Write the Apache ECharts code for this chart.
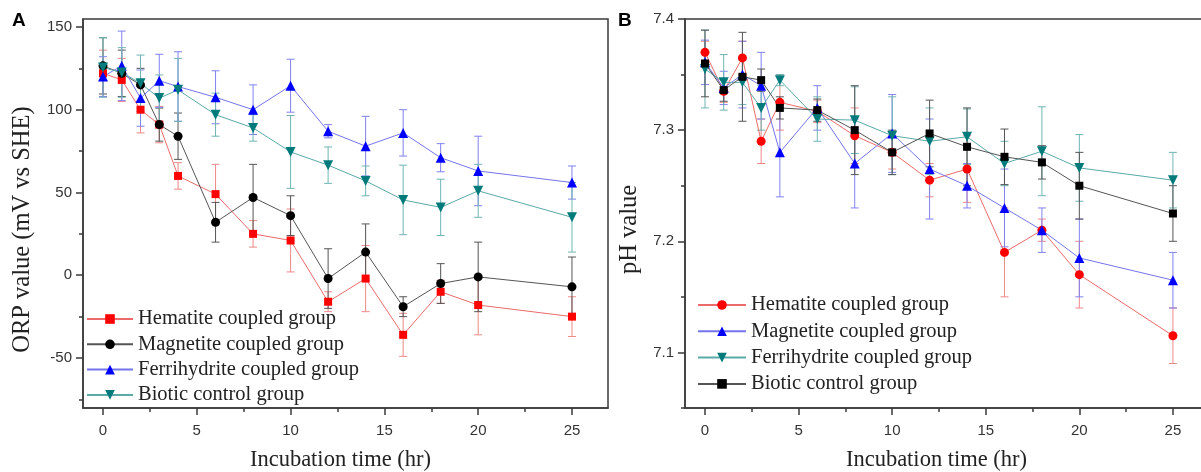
<!DOCTYPE html>
<html>
<head>
<meta charset="utf-8">
<script src="https://cdn.jsdelivr.net/npm/echarts@6/dist/echarts.min.js"></script>
<style>
html,body{margin:0;padding:0;background:#fff;}
#chart{width:1201px;height:472px;}
</style>
</head>
<body>
<div id="chart"></div>
<script>
// ---------- data ----------
const times = [0, 1, 2, 3, 4, 6, 8, 10, 12, 14, 16, 18, 20, 25];

// Panel A: ORP value (mV vs SHE)
const orpHematite     = [122, 118, 100, 91, 60, 49, 25, 21, -16, -2, -36, -10, -18, -25];
const orpHematiteErr  = [14, 13, 14, 11, 8, 18, 8, 19, 6, 20, 13, 7, 18, 12];
const orpMagnetite    = [126.5, 122, 115, 91, 84, 32, 47, 36, -2, 14, -19, -5, -1, -7];
const orpMagnetiteErr = [17, 14, 10, 10, 14, 12, 20, 12, 18, 17, 6, 12, 21, 18];
const orpFerri        = [120, 126.5, 107, 117.5, 114, 107.5, 100, 114.5, 87, 78, 86, 71, 63, 56];
const orpFerriErr     = [12, 21, 17, 16, 21, 16, 15, 16, 4, 18, 14, 8.5, 21, 10];
const orpBiotic       = [125.5, 122.5, 116, 107, 112, 97, 89, 74.5, 66.5, 57, 45.5, 41, 51, 35];
const orpBioticErr    = [18, 15, 17, 14, 19, 13, 8, 22, 11, 9, 21, 17, 16, 21];

// Panel B: pH value
const phHematite     = [7.370, 7.335, 7.365, 7.290, 7.325, 7.317, 7.295, 7.280, 7.255, 7.265, 7.190, 7.210, 7.170, 7.115];
const phHematiteErr  = [0.01, 0.01, 0.015, 0.02, 0.025, 0.01, 0.025, 0.015, 0.015, 0.03, 0.04, 0.01, 0.03, 0.025];
const phMagnetite    = [7.361, 7.338, 7.350, 7.340, 7.280, 7.320, 7.270, 7.297, 7.265, 7.250, 7.230, 7.210, 7.185, 7.165];
const phMagnetiteErr = [0.02, 0.015, 0.03, 0.03, 0.04, 0.02, 0.04, 0.035, 0.045, 0.02, 0.035, 0.02, 0.035, 0.025];
const phFerri        = [7.355, 7.343, 7.343, 7.320, 7.345, 7.310, 7.309, 7.295, 7.290, 7.294, 7.270, 7.281, 7.266, 7.255];
const phFerriErr     = [0.035, 0.025, 0.02, 0.02, 0.005, 0.02, 0.03, 0.035, 0.03, 0.025, 0.02, 0.04, 0.03, 0.025];
const phBiotic       = [7.360, 7.336, 7.348, 7.345, 7.320, 7.318, 7.300, 7.280, 7.297, 7.285, 7.276, 7.271, 7.250, 7.225];
const phBioticErr    = [0.03, 0.01, 0.04, 0.01, 0.01, 0.01, 0.04, 0.02, 0.03, 0.035, 0.025, 0.015, 0.03, 0.025];

const groupNames = ['Hematite coupled group', 'Magnetite coupled group', 'Ferrihydrite coupled group', 'Biotic control group'];

const xMajorTicks = [0, 5, 10, 15, 20, 25];
const xMinorTicks = [2.5, 7.5, 12.5, 17.5, 22.5];
const orpMajorTicks = [-50, 0, 50, 100, 150];
const orpMinorTicks = [-75, -25, 25, 75, 125];
const phMajorTicks = [7.1, 7.2, 7.3, 7.4];
const phMinorTicks = [7.05, 7.15, 7.25, 7.35];

// ---------- styles ----------
const C = {
  red:   {mark: '#ff0000', line: '#ec6a6a', err: '#ee8888'},
  black: {mark: '#000000', line: '#555555', err: '#555555'},
  blue:  {mark: '#0000ff', line: '#7474ee', err: '#8080f0'},
  teal:  {mark: '#007a7a', line: '#5aaaa8', err: '#6fb5b3'}
};
const SERIF = '"Liberation Serif", "Times New Roman", serif';
const SANS = '"Liberation Sans", Arial, sans-serif';
const AXIS_COLOR = '#3a3a3a';

function pairs(vals) { return times.map((t, i) => [t, vals[i]]); }
function errPairs(vals, errs) { return times.map((t, i) => [t, vals[i] - errs[i], vals[i] + errs[i]]); }

function errRender(params, api) {
  const x = api.value(0), lo = api.value(1), hi = api.value(2);
  const a = api.coord([x, hi]), b = api.coord([x, lo]);
  const w = 4;
  const st = {stroke: api.visual('color'), lineWidth: 1, fill: null};
  return {type: 'group', children: [
    {type: 'line', shape: {x1: a[0], y1: a[1], x2: b[0], y2: b[1]}, style: st},
    {type: 'line', shape: {x1: a[0] - w, y1: a[1], x2: a[0] + w, y2: a[1]}, style: st},
    {type: 'line', shape: {x1: b[0] - w, y1: b[1], x2: b[0] + w, y2: b[1]}, style: st}
  ]};
}

function lineSeries(panel, name, vals, col, symbol, size, rotate, axIdx) {
  return {
    type: 'line', name: panel + '|' + name, data: pairs(vals),
    xAxisIndex: axIdx, yAxisIndex: axIdx,
    symbol: symbol, symbolSize: size, symbolRotate: rotate || 0,
    itemStyle: {color: col.mark}, lineStyle: {color: col.line, width: 1},
    z: 3, animation: false, clip: false
  };
}
function errSeries(vals, errs, col, axIdx) {
  return {
    type: 'custom', renderItem: errRender, data: errPairs(vals, errs),
    xAxisIndex: axIdx, yAxisIndex: axIdx, encode: {x: 0, y: [1, 2]},
    itemStyle: {color: col.err}, z: 2, animation: false, silent: true, clip: false
  };
}

function majorX(gridIndex, min, max, namePad) {
  return {
    type: 'value', gridIndex, min, max, position: 'bottom',
    name: 'Incubation time (hr)', nameLocation: 'middle', nameGap: 41,
    nameTextStyle: {fontFamily: SERIF, fontSize: 22.5, color: '#222', padding: namePad},
    axisLine: {show: true, onZero: false, lineStyle: {color: AXIS_COLOR, width: 1.5}},
    axisTick: {show: true, inside: false, length: 7, customValues: xMajorTicks, lineStyle: {color: AXIS_COLOR, width: 1.5}},
    axisLabel: {show: true, customValues: xMajorTicks, margin: 15, fontFamily: SANS, fontSize: 15, color: '#333'},
    splitLine: {show: false}
  };
}
function minorX(gridIndex, min, max) {
  return {
    type: 'value', gridIndex, min, max, position: 'bottom',
    axisLine: {show: false, onZero: false},
    axisTick: {show: true, inside: false, length: 4, customValues: xMinorTicks, lineStyle: {color: AXIS_COLOR, width: 1.5}},
    axisLabel: {show: false}, splitLine: {show: false}
  };
}
function majorY(gridIndex, min, max, ticks, name, nameGap, fmt) {
  return {
    type: 'value', gridIndex, min, max, position: 'left',
    name, nameLocation: 'middle', nameGap,
    nameTextStyle: {fontFamily: SERIF, fontSize: 24.5, color: '#222', padding: [0, 32, 0, 0]},
    axisLine: {show: true, onZero: false, lineStyle: {color: AXIS_COLOR, width: 1.5}},
    axisTick: {show: true, inside: false, length: 7, customValues: ticks, lineStyle: {color: AXIS_COLOR, width: 1.5}},
    axisLabel: {show: true, customValues: ticks, margin: 11, fontFamily: SANS, fontSize: 15, color: '#333', formatter: fmt},
    splitLine: {show: false}
  };
}
function minorY(gridIndex, min, max, ticks) {
  return {
    type: 'value', gridIndex, min, max, position: 'left',
    axisLine: {show: false, onZero: false},
    axisTick: {show: true, inside: false, length: 4, customValues: ticks, lineStyle: {color: AXIS_COLOR, width: 1.5}},
    axisLabel: {show: false}, splitLine: {show: false}
  };
}

function legendFor(panel, left, top, itemWidth, gap) {
  return {
    orient: 'vertical', left, top, itemWidth, itemHeight: 12, itemGap: gap, padding: 0,
    data: groupNames.map(n => panel + '|' + n),
    formatter: name => name.split('|')[1],
    textStyle: {fontFamily: SERIF, fontSize: 20.5, color: '#222', lineHeight: 20},
    selectedMode: false
  };
}

const xMinA = -1.066, xMaxA = 26.92;
const xMinB = -1.068, xMaxB = 26.66;

const option = {
  backgroundColor: '#ffffff',
  animation: false,
  title: [
    {text: 'A', left: 12, top: 11, padding: 0, textStyle: {fontFamily: SANS, fontSize: 19, fontWeight: 'bold', color: '#000'}},
    {text: 'B', left: 618, top: 11, padding: 0, textStyle: {fontFamily: SANS, fontSize: 19, fontWeight: 'bold', color: '#000'}}
  ],
  grid: [
    {left: 83, top: 19, right: 593, bottom: 64, outerBoundsMode: 'none', containLabel: false, show: true, borderColor: AXIS_COLOR, borderWidth: 1.5, backgroundColor: 'transparent'},
    {left: 685, top: 19, right: -3, bottom: 64, outerBoundsMode: 'none', containLabel: false, show: true, borderColor: AXIS_COLOR, borderWidth: 1.5, backgroundColor: 'transparent'}
  ],
  xAxis: [
    majorX(0, xMinA, xMaxA, [0, 10, 0, 0]), minorX(0, xMinA, xMaxA),
    majorX(1, xMinB, xMaxB, [0, 16, 0, 0]), minorX(1, xMinB, xMaxB)
  ],
  yAxis: [
    majorY(0, -80.2, 154.8, orpMajorTicks, 'ORP value (mV vs SHE)', 48, v => String(v)),
    minorY(0, -80.2, 154.8, orpMinorTicks),
    majorY(1, 7.05, 7.4, phMajorTicks, 'pH value', 43, v => v.toFixed(1)),
    minorY(1, 7.05, 7.4, phMinorTicks)
  ],
  legend: [
    legendFor('A', 86, 308.5, 46, 4.3),
    legendFor('B', 697, 294.5, 48, 5.3)
  ],
  series: [
    // Panel A error bars
    errSeries(orpHematite, orpHematiteErr, C.red, 0),
    errSeries(orpMagnetite, orpMagnetiteErr, C.black, 0),
    errSeries(orpFerri, orpFerriErr, C.blue, 0),
    errSeries(orpBiotic, orpBioticErr, C.teal, 0),
    // Panel A lines
    lineSeries('A', groupNames[0], orpHematite, C.red, 'rect', 8, 0, 0),
    lineSeries('A', groupNames[1], orpMagnetite, C.black, 'circle', 9, 0, 0),
    lineSeries('A', groupNames[2], orpFerri, C.blue, 'triangle', 10, 0, 0),
    lineSeries('A', groupNames[3], orpBiotic, C.teal, 'triangle', 10, 180, 0),
    // Panel B error bars
    errSeries(phHematite, phHematiteErr, C.red, 2),
    errSeries(phMagnetite, phMagnetiteErr, C.blue, 2),
    errSeries(phFerri, phFerriErr, C.teal, 2),
    errSeries(phBiotic, phBioticErr, C.black, 2),
    // Panel B lines
    lineSeries('B', groupNames[0], phHematite, C.red, 'circle', 9, 0, 2),
    lineSeries('B', groupNames[1], phMagnetite, C.blue, 'triangle', 10, 0, 2),
    lineSeries('B', groupNames[2], phFerri, C.teal, 'triangle', 10, 180, 2),
    lineSeries('B', groupNames[3], phBiotic, C.black, 'rect', 8, 0, 2)
  ]
};

const chart = echarts.init(document.getElementById('chart'), null, {renderer: 'canvas'});
chart.setOption(option);
</script>
</body>
</html>
